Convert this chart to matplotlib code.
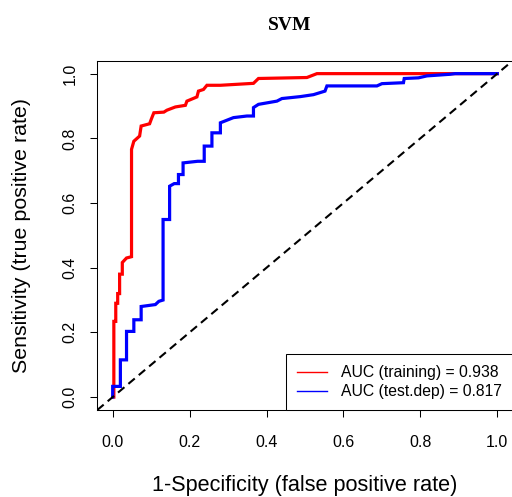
import matplotlib
matplotlib.use("Agg")
import matplotlib.pyplot as plt

# ROC curve vertices (1-specificity, sensitivity)
red_fpr = [0, 0.003, 0.003, 0.008, 0.008, 0.013, 0.013, 0.018, 0.018, 0.025,
           0.025, 0.036, 0.049, 0.049, 0.055, 0.070, 0.074, 0.096, 0.100, 0.107,
           0.133, 0.141, 0.163, 0.189, 0.193, 0.219, 0.223, 0.236, 0.245, 0.280,
           0.366, 0.379, 0.505, 0.531, 1.0]
red_tpr = [0, 0, 0.234, 0.234, 0.29, 0.29, 0.32, 0.32, 0.38, 0.38,
           0.416, 0.43, 0.434, 0.766, 0.791, 0.807, 0.838, 0.845, 0.858, 0.879,
           0.881, 0.887, 0.897, 0.902, 0.915, 0.928, 0.946, 0.951, 0.964, 0.964,
           0.970, 0.985, 0.988, 1.0, 1.0]

blue_fpr = [0, 0, 0.02, 0.02, 0.036, 0.036, 0.055, 0.055, 0.074, 0.074,
            0.111, 0.12, 0.131, 0.131, 0.148, 0.148, 0.160, 0.171, 0.171, 0.183,
            0.183, 0.221, 0.238, 0.238, 0.258, 0.258, 0.28, 0.28, 0.314, 0.349,
            0.366, 0.366, 0.379, 0.427, 0.44, 0.488, 0.522, 0.552, 0.557, 0.687,
            0.70, 0.756, 0.758, 0.795, 0.817, 0.877, 0.89, 1.0]
blue_tpr = [0, 0.033, 0.033, 0.115, 0.115, 0.203, 0.203, 0.239, 0.239, 0.28,
            0.286, 0.296, 0.30, 0.549, 0.549, 0.652, 0.66, 0.66, 0.688, 0.688,
            0.724, 0.729, 0.729, 0.776, 0.776, 0.817, 0.817, 0.848, 0.864, 0.869,
            0.869, 0.895, 0.905, 0.915, 0.923, 0.929, 0.935, 0.946, 0.962, 0.962,
            0.969, 0.972, 0.985, 0.987, 0.993, 0.998, 1.0, 1.0]

labels = ["AUC (training) = 0.938", "AUC (test.dep) = 0.817"]
ticks = [0.0, 0.2, 0.4, 0.6, 0.8, 1.0]
tick_labels = ["0.0", "0.2", "0.4", "0.6", "0.8", "1.0"]

plt.rcParams["font.family"] = ["Liberation Sans", "DejaVu Sans"]

fig = plt.figure(figsize=(5.12, 4.97), dpi=100)
ax = fig.add_axes([97.3/512, 1-410/497, (512.7-97.3)/512, (410-60.7)/497])

ax.plot(red_fpr, red_tpr, color="red", lw=2.3, solid_joinstyle="miter")
ax.plot(blue_fpr, blue_tpr, color="blue", lw=2.3, solid_joinstyle="miter")
ax.axline((0, 0), (1, 1), color="black", lw=1.5, linestyle=(0, (4, 2.5)))

ax.set_xlim(-0.04, 1.04)
ax.set_ylim(-0.04, 1.04)
ax.set_xticks(ticks)
ax.set_xticklabels(tick_labels)
ax.set_yticks(ticks)
ax.set_yticklabels(tick_labels, rotation=90, va="center")
ax.tick_params(length=5, width=0.75, labelsize=11.5)
ax.tick_params(axis="x", pad=13)
ax.tick_params(axis="y", pad=9)
for s in ax.spines.values():
    s.set_linewidth(0.75)

ax.set_xlabel("1-Specificity (false positive rate)", fontsize=15.6, va="center")
ax.xaxis.set_label_coords(0.5, (410-485)/349.3)
ax.set_ylabel("Sensitivity (true positive rate)", fontsize=15.4, va="center")
ax.yaxis.set_label_coords((22-97.3)/415.4, 0.5)

h1 = plt.Line2D([], [], color="red", lw=1)
h2 = plt.Line2D([], [], color="blue", lw=1)
leg = ax.legend([h1, h2], labels, loc="lower right", bbox_to_anchor=(1, 0),
                borderaxespad=0, fontsize=11.3, handlelength=1.9,
                handletextpad=0.9, labelspacing=0.25, borderpad=0.7,
                fancybox=False, framealpha=1)
leg.get_frame().set_edgecolor("black")
leg.get_frame().set_linewidth(0.75)

fig.text(290/512, 1-26/497, "SVM", family="Liberation Serif",
         fontweight="bold", fontsize=14, ha="center", va="center")

fig.savefig("out.png", dpi=100)
